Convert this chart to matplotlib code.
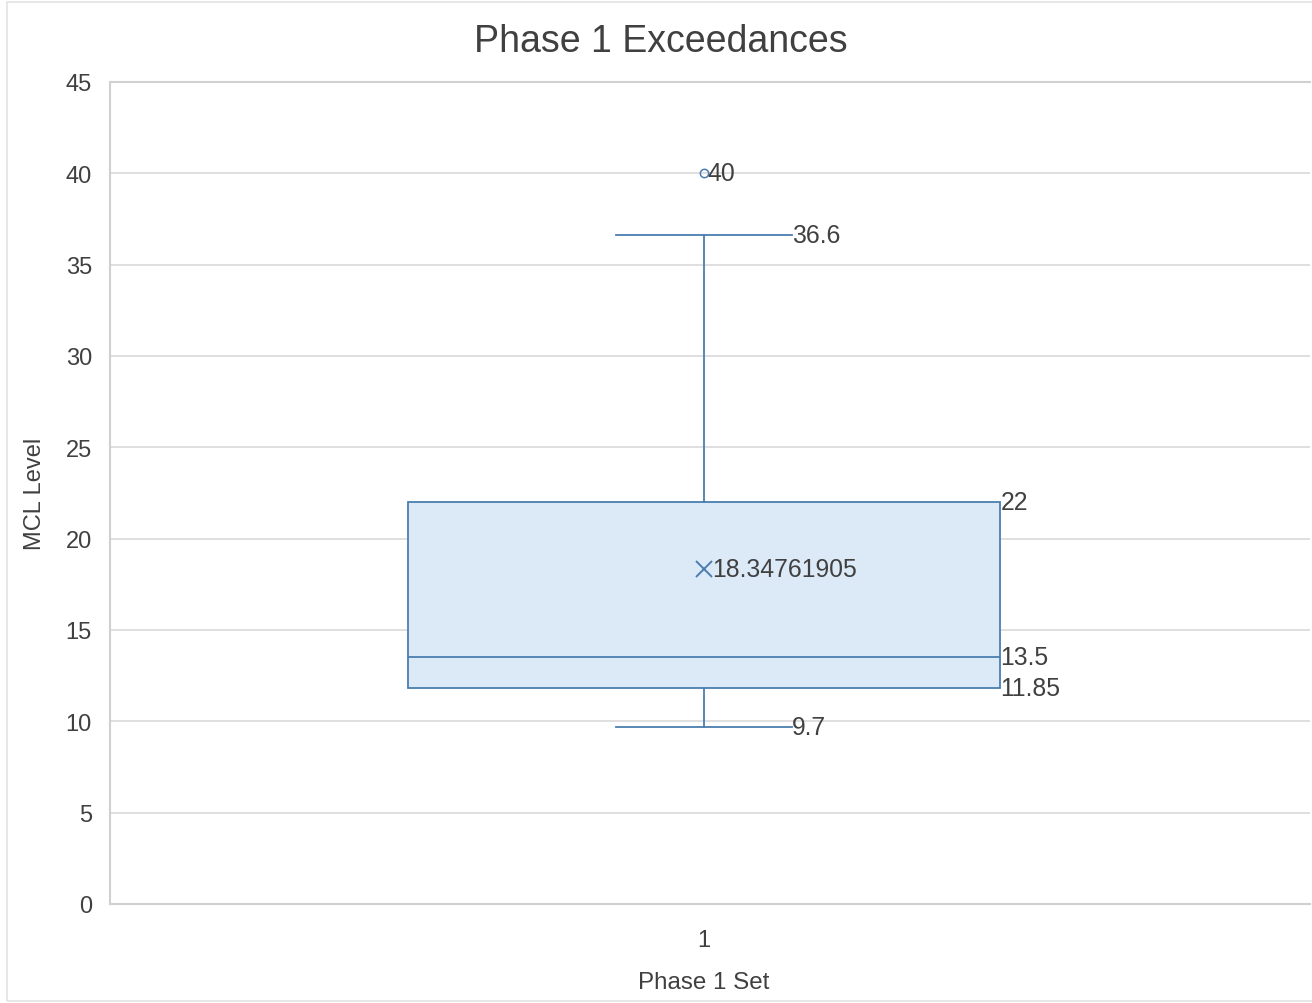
import matplotlib
matplotlib.use("Agg")
import matplotlib.pyplot as plt
from matplotlib.patches import Rectangle

# Summary statistics of the Phase 1 exceedance set
category = "1"
q1 = 11.85
median = 13.5
q3 = 22.0
whisker_low = 9.7
whisker_high = 36.6
mean_value = 18.34761905
outliers = [40.0]
y_ticks = [0, 5, 10, 15, 20, 25, 30, 35, 40, 45]

plt.rcParams["font.family"] = ["Liberation Sans", "DejaVu Sans"]

edge = "#4a7eb0"
fill = "#dce9f6"
text_col = "#404040"
grid_col = "#d9d9d9"

fig = plt.figure(figsize=(13.12, 10.04), dpi=100)
ax = fig.add_axes([110 / 1312, 1 - 905 / 1004, 1200 / 1312, (905 - 83) / 1004])

# faint outer chart border
fig.add_artist(Rectangle((7 / 1312, 0.002), 1.2, 1 - 3 / 1004 - 0.002,
                         transform=fig.transFigure, fill=False,
                         edgecolor="#e3e3e3", linewidth=1.2))

box_w = 0.998
cap_w = 0.295

stats = [{
    "label": category,
    "q1": q1, "med": median, "q3": q3,
    "whislo": whisker_low, "whishi": whisker_high,
    "mean": mean_value, "fliers": outliers,
}]

lw = 1.3
ax.bxp(stats, positions=[1], widths=box_w, patch_artist=True,
       showmeans=True, meanline=False, showcaps=True,
       boxprops=dict(facecolor=fill, edgecolor=edge, linewidth=lw),
       medianprops=dict(color=edge, linewidth=lw),
       whiskerprops=dict(color=edge, linewidth=lw),
       capprops=dict(color=edge, linewidth=lw),
       capwidths=cap_w,
       meanprops=dict(marker="x", markeredgecolor=edge, markersize=12,
                      markeredgewidth=1.4),
       flierprops=dict(marker="o", markerfacecolor="none", markeredgecolor=edge,
                       markersize=6, markeredgewidth=1.1),
       zorder=3)

ax.set_xlim(0, 1200 / (704 - 110))
ax.set_ylim(0, 45)
ax.set_yticks(y_ticks)
ax.set_xticks([1])
ax.set_xticklabels([category])
ax.yaxis.grid(True, color=grid_col, linewidth=1.2, zorder=0)
ax.set_axisbelow(True)
ax.tick_params(axis="both", length=0, labelsize=17, labelcolor=text_col)
ax.tick_params(axis="y", pad=13)
ax.tick_params(axis="x", pad=18)

for side in ["left", "top", "bottom"]:
    ax.spines[side].set_color("#d0d0d0")
    ax.spines[side].set_linewidth(1.5)
ax.spines["right"].set_visible(False)

# data labels
lab = dict(fontsize=17.8, color=text_col, va="center", ha="left", zorder=5)
box_right = 1 + box_w / 2
cap_right = 1 + cap_w / 2
ax.text(cap_right, whisker_high, f"{whisker_high:g}", **lab)
ax.text(cap_right, whisker_low, f"{whisker_low:g}", **lab)
ax.text(box_right, q3, f"{q3:g}", **lab)
ax.text(box_right, median, f"{median:g}", **lab)
ax.text(box_right, q1, f"{q1:g}", **lab)
ax.text(1.014, mean_value, f"{mean_value:.8f}", **lab)
for v in outliers:
    ax.text(1.006, v, f"{v:g}", **lab)

ax.set_ylabel("MCL Level", fontsize=17, color=text_col)
ax.yaxis.set_label_coords(-(110 - 46) / 1200, (905 - 494) / 822)
ax.set_xlabel("Phase 1 Set", fontsize=17.4, color=text_col)
ax.xaxis.set_label_coords((704 - 110) / 1200, -(983 - 905) / 822)
ax.xaxis.label.set_va("center")

fig.text(661 / 1312, 1 - 42 / 1004, "Phase 1 Exceedances", fontsize=27,
         color=text_col, ha="center", va="center")

fig.savefig("out.png", dpi=100, facecolor="white")
